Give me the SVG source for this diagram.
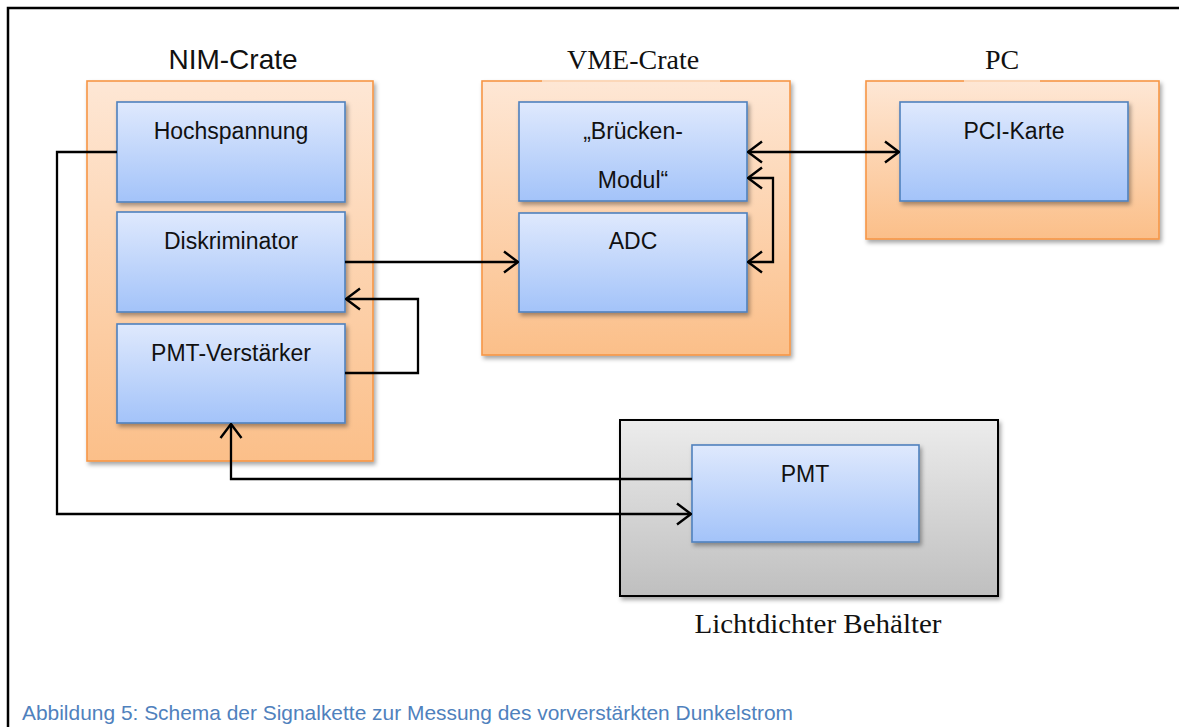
<svg xmlns="http://www.w3.org/2000/svg" width="1179" height="727" viewBox="0 0 1179 727">
<style>
.crate{stroke:#f79646;stroke-width:1.6;fill:url(#gOr);filter:url(#sh)}
.box{stroke:#4f81bd;stroke-width:1.6;fill:url(#gBl);filter:url(#sh)}
.lbl{font-family:"Liberation Sans",Arial,sans-serif;font-size:23px;fill:#111;text-anchor:middle}
.ttl{font-family:"Liberation Sans",Arial,sans-serif;font-size:28px;fill:#111;text-anchor:middle}
.ser{font-family:"Liberation Serif","Times New Roman",serif;font-size:28px;fill:#111;text-anchor:middle}
.cap{font-family:"Liberation Sans",Arial,sans-serif;font-size:21px;fill:#4f81bd}
.con{fill:none;stroke:#000;stroke-width:2.3}
</style>
<defs>
<linearGradient id="gOr" x1="0" y1="0" x2="0" y2="1"><stop offset="0" stop-color="#fee7d5"/><stop offset="1" stop-color="#fbbf89"/></linearGradient>
<linearGradient id="gBl" x1="0" y1="0" x2="0" y2="1"><stop offset="0" stop-color="#dfe9fd"/><stop offset="1" stop-color="#a3c3f9"/></linearGradient>
<linearGradient id="gGr" x1="0" y1="0" x2="0" y2="1"><stop offset="0" stop-color="#ececec"/><stop offset="1" stop-color="#bfbfbf"/></linearGradient>
<filter id="sh" x="-10%" y="-10%" width="125%" height="125%"><feDropShadow dx="2" dy="3" stdDeviation="2" flood-color="#000" flood-opacity="0.35"/></filter>
<marker id="arr" viewBox="0 0 17 24" markerWidth="17" markerHeight="24" refX="16" refY="12" orient="auto-start-reverse" markerUnits="userSpaceOnUse"><path d="M2,1.5 L16,12 L2,22.5" fill="none" stroke="#000" stroke-width="2.4"/></marker>
</defs>
<rect width="1179" height="727" fill="#fff"/>
<path d="M8,727 V8 H1179" fill="none" stroke="#000" stroke-width="2.5"/>

<g id="nim-crate">
<rect class="crate" x="87" y="81" width="286" height="380"/>
<text class="ttl" x="233" y="69">NIM-Crate</text>
</g>
<g id="hochspannung"><rect class="box" x="117" y="102" width="228" height="100"/><text class="lbl" x="231" y="139">Hochspannung</text></g>
<g id="diskriminator"><rect class="box" x="117" y="212" width="228" height="100"/><text class="lbl" x="231" y="249">Diskriminator</text></g>
<g id="pmt-verstaerker"><rect class="box" x="117" y="324" width="228" height="99"/><text class="lbl" x="231" y="361">PMT-Verstärker</text></g>

<g id="vme-crate">
<rect class="crate" x="482" y="81" width="308" height="274"/>
<rect x="542" y="80" width="178" height="2" fill="#fff" opacity="0.55"/>
<text class="ser" x="633" y="69">VME-Crate</text>
</g>
<g id="bruecken-modul"><rect class="box" x="519" y="102" width="228" height="99"/><text class="lbl" x="633" y="139">„Brücken-</text><text class="lbl" x="633" y="188">Modul“</text></g>
<g id="adc"><rect class="box" x="519" y="213" width="228" height="99"/><text class="lbl" x="633" y="249">ADC</text></g>

<g id="pc">
<rect class="crate" x="866" y="81" width="293" height="158"/>
<rect x="964" y="80" width="76" height="2" fill="#fff" opacity="0.55"/>
<text class="ser" x="1002" y="69">PC</text>
</g>
<g id="pci-karte"><rect class="box" x="900" y="102" width="228" height="99"/><text class="lbl" x="1014" y="139">PCI-Karte</text></g>

<g id="lichtdichter-behaelter">
<rect x="620" y="420" width="378" height="176" fill="url(#gGr)" stroke="#000" stroke-width="2" filter="url(#sh)"/>
<text class="ser" x="818" y="633" textLength="247" lengthAdjust="spacingAndGlyphs">Lichtdichter Behälter</text>
</g>
<g id="pmt"><rect class="box" x="692" y="445" width="227" height="97"/><text class="lbl" x="805" y="482">PMT</text></g>

<g id="connectors">
<path class="con" d="M345,262 H518" marker-end="url(#arr)"/>
<path class="con" d="M345,373 H418 V299 H346" marker-end="url(#arr)"/>
<path class="con" d="M748,152 H899" marker-start="url(#arr)" marker-end="url(#arr)"/>
<path class="con" d="M748,178 H773 V262 H748" marker-start="url(#arr)" marker-end="url(#arr)"/>
<path class="con" d="M117,152 H57 V514 H691" marker-end="url(#arr)"/>
<path class="con" d="M692,479 H231 V424" marker-end="url(#arr)"/>
</g>

<text class="cap" x="22" y="720" textLength="771" lengthAdjust="spacingAndGlyphs">Abbildung 5: Schema der Signalkette zur Messung des vorverstärkten Dunkelstrom</text>
</svg>
